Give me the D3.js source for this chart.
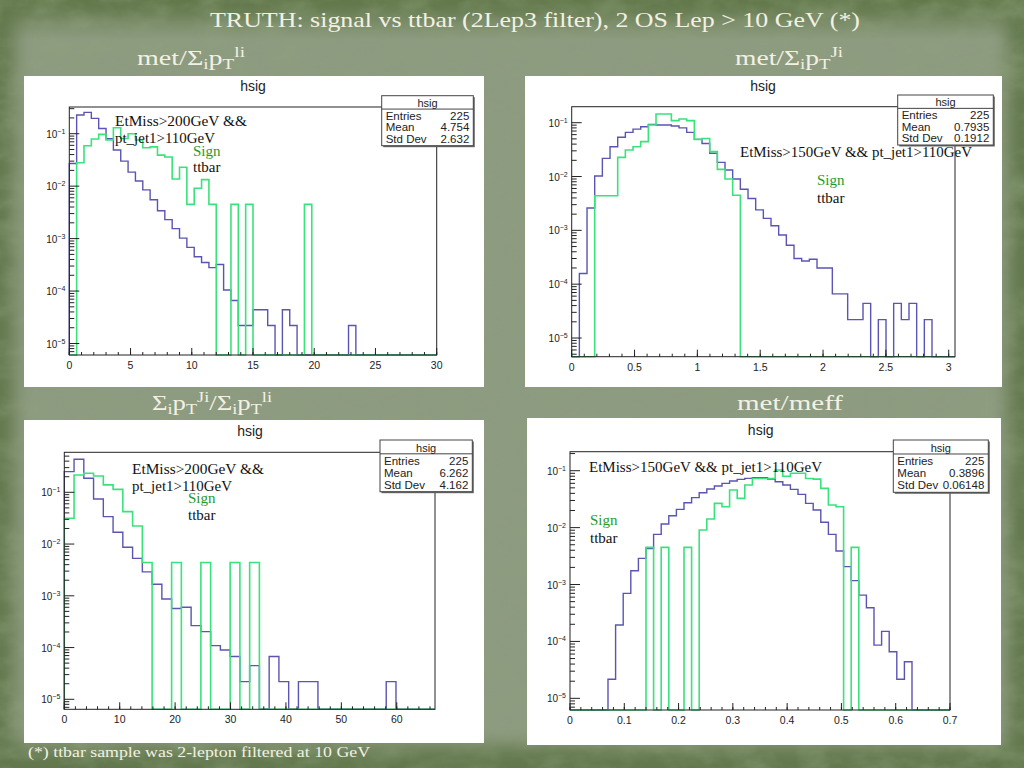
<!DOCTYPE html>
<html><head><meta charset="utf-8">
<script src="https://cdn.jsdelivr.net/npm/d3@7/dist/d3.min.js"></script>
<style>body{margin:0;overflow:hidden;background:#62784c}</style>
</head><body>
<svg id="c" width="1024" height="768"></svg>
<script>
// ---------------- DATA ----------------
// normalized bin contents (0 = empty bin)
const p1Blue  = [0.027,0.227,0.255,0.196,0.126,0.08,0.049,0.03,0.0185,0.0125,0.0085,0.0055,0.0034,0.0023,0.00155,0.00102,0.00068,0.00045,0.00035,0.00028,0.00032,0.000105,6.6e-5,2.2e-5,2.2e-5,4.4e-5,4.4e-5,2.2e-5,0,4.4e-5,2.2e-5,0,0,0,0,0,0,0,2.2e-5,0,0,0,0,0,0,0,0,0,0,0];
const p1Green = [0,0.028,0.059,0.079,0.097,0.076,0.13,0.081,0.1,0.076,0.054,0.056,0.039,0.036,0.0137,0.0229,0.0045,0.0091,0.0133,0.0045,0,0,0.0045,0,0.0045,0,0,0,0,0,0,0,0.0045,0,0,0,0,0,0,0,0,0,0,0,0,0,0,0,0,0];
const p2Blue  = [0,1.58e-4,0.0026,0.0102,0.0217,0.0358,0.0535,0.066,0.076,0.084,0.093,0.0905,0.0905,0.087,0.08,0.066,0.049,0.041,0.027,0.0183,0.0132,0.009,0.0058,0.0039,0.0024,0.00167,0.00122,0.00082,0.00053,0.0003,0.00027,0.00029,0.0002,0.0002,6.6e-5,6.6e-5,2.2e-5,2.2e-5,4.4e-5,0,2.2e-5,0,4.4e-5,2.2e-5,4.4e-5,0,2.2e-5,0,0,0];
const p2Green = [0,0,0,0.0044,0.0044,0.0044,0.0227,0.031,0.0358,0.0444,0.0905,0.145,0.145,0.109,0.117,0.109,0.049,0.051,0.029,0.0136,0.009,0.0045,0,0,0,0,0,0,0,0,0,0,0,0,0,0,0,0,0,0,0,0,0,0,0,0,0,0,0,0];
const p3Blue  = [0.251,0.434,0.187,0.0744,0.0339,0.0169,0.00865,0.0053,0.0029,0.00167,0.00087,0.00057,0.0006,0.000265,0.000203,0.000109,9e-5,6.7e-5,2.2e-5,4.47e-5,0,6.7e-5,2.2e-5,0,2.2e-5,2.2e-5,0,0,0,0,0,0,0,2.2e-5,0,0,0,0];
const p3Green = [0.0315,0.216,0.233,0.207,0.139,0.114,0.0423,0.0223,0.0044,0,0,0.0044,0,0,0.0044,0,0,0.0044,0,0.0044,0,0,0,0,0,0,0,0,0,0,0,0,0,0,0,0,0,0];
const p4Blue  = [0,0,0,0,0,2.16e-5,1.94e-4,0.0007,0.00175,0.00288,0.0043,0.0076,0.0116,0.0162,0.0209,0.0274,0.0336,0.041,0.0477,0.0538,0.06,0.0658,0.0705,0.0733,0.075,0.075,0.071,0.0638,0.056,0.047,0.0384,0.0267,0.0204,0.0124,0.0076,0.00388,0.00206,0.00117,0.00065,0.00039,8.6e-5,1.5e-4,6.6e-5,2.16e-5,4.4e-5,0,0,0,0,0];
const p4Green = [0,0,0,0,0,0,0,0,0,0,0.0045,0,0.0045,0,0,0.0045,0,0.0091,0.0142,0.0267,0.0233,0.0457,0.0327,0.056,0.073,0.073,0.073,0.103,0.08,0.09,0.09,0.073,0.071,0.049,0.025,0.0233,0,0.0045,0,0,0,0,0,0,0,0,0,0,0,0];

const p1XTicks = [0,5,10,15,20,25,30];
const p2XTicks = [0,0.5,1,1.5,2,2.5,3];
const p3XTicks = [0,10,20,30,40,50,60];
const p4XTicks = [0,0.1,0.2,0.3,0.4,0.5,0.6,0.7];
const yDecades = [-5,-4,-3,-2,-1];

const statLabels = ["Entries","Mean","Std Dev"];
const p1Stats = ["225","4.754","2.632"];
const p2Stats = ["225","0.7935","0.1912"];
const p3Stats = ["225","6.262","4.162"];
const p4Stats = ["225","0.3896","0.06148"];

const cut200 = ["EtMiss>200GeV &&","pt_jet1>110GeV"];
const cut150 = ["EtMiss>150GeV && pt_jet1>110GeV"];
const legendLabels = ["Sign","ttbar"];

// ---------------- LAYOUT ----------------
const panels = [
  {box:[24,76,484,387], frame:[69.3,107,436.7,355], xdom:[0,30], ylog:[-5.219,-0.491], blue:p1Blue, green:p1Green,
   xt:p1XTicks, xminor:1, title:[253,91], stats:[381.7,95.7,473.3,145.7], sv:p1Stats,
   cut:cut200, cutPos:[[115,126,132],[115,143,100]], leg:[193,156,172]},
  {box:[525,76,1002,387], frame:[571.7,106.7,955,356.7], xdom:[0,3.05], ylog:[-5.347,-0.703], blue:p2Blue, green:p2Green,
   xt:p2XTicks, xminor:0.1, title:[763,91], stats:[897.7,95,993.3,145], sv:p2Stats,
   cut:cut150, cutPos:[[740,157,232]], leg:[817,185,203]},
  {box:[24,420,484,743], frame:[64.3,452.3,435,709.3], xdom:[0,66.9], ylog:[-5.193,-0.227], blue:p3Blue, green:p3Green,
   xt:p3XTicks, xminor:2, title:[250,436], stats:[380,440,472.3,491.7], sv:p3Stats,
   cut:cut200, cutPos:[[132,474,132],[132,491,100]], leg:[188,503,520]},
  {box:[527,418,1001,745], frame:[570,451.7,950,710], xdom:[0,0.7], ylog:[-5.205,-0.666], blue:p4Blue, green:p4Green,
   xt:p4XTicks, xminor:0.02, title:[760.7,435], stats:[893.3,440,988.3,492.3], sv:p4Stats,
   cut:cut150, cutPos:[[589,472,233]], leg:[590,525,543]}
];

const svg = d3.select('#c');
const defs = svg.append('defs');

// background
const soft = defs.append('filter').attr('id','soft').attr('x','-5%').attr('y','-5%').attr('width','110%').attr('height','110%');
soft.append('feGaussianBlur').attr('stdDeviation',9);
const nz = defs.append('filter').attr('id','noise').attr('x',0).attr('y',0).attr('width','100%').attr('height','100%');
nz.append('feTurbulence').attr('type','fractalNoise').attr('baseFrequency','0.03 0.05').attr('numOctaves',4).attr('seed',11);
nz.append('feColorMatrix').attr('type','matrix').attr('values','0 0 0 0 0.27  0 0 0 0 0.35  0 0 0 0 0.2  0 0 0 1.6 -0.55');
const tg = defs.append('linearGradient').attr('id','topg').attr('x1',0).attr('y1',0).attr('x2',0).attr('y2',1);
tg.append('stop').attr('offset',0).attr('stop-color','#62784a').attr('stop-opacity',0.95);
tg.append('stop').attr('offset',1).attr('stop-color','#62784a').attr('stop-opacity',0);
const rg = defs.append('radialGradient').attr('id','maskg').attr('cx','50%').attr('cy','50%').attr('r','62%');
rg.append('stop').attr('offset','0.55').attr('stop-color','#fff').attr('stop-opacity',0.25);
rg.append('stop').attr('offset','0.85').attr('stop-color','#fff').attr('stop-opacity',0.9);
rg.append('stop').attr('offset','1').attr('stop-color','#fff').attr('stop-opacity',1);
const mk = defs.append('mask').attr('id','edgeMask');
mk.append('rect').attr('width',1024).attr('height',768).attr('fill','url(#maskg)');

svg.append('rect').attr('width',1024).attr('height',768).attr('fill','#62784c');
svg.append('rect').attr('x',14).attr('y',10).attr('width',994).attr('height',736).attr('rx',6).attr('fill','#8d9b80').attr('filter','url(#soft)');
svg.append('rect').attr('x',0).attr('y',0).attr('width',1024).attr('height',40).attr('fill','url(#topg)');
svg.append('rect').attr('width',1024).attr('height',768).attr('fill','#000').attr('filter','url(#noise)').attr('opacity',0.6).attr('mask','url(#edgeMask)');

const cream = '#f3f1e4';
const serif = "'Liberation Serif','DejaVu Serif',serif";
const sans = "'Liberation Sans',Arial,sans-serif";

// header
svg.append('text').attr('x',210).attr('y',27).attr('font-family',serif).attr('font-size',22).attr('fill',cream)
  .attr('textLength',650).attr('lengthAdjust','spacingAndGlyphs')
  .text('TRUTH: signal vs ttbar (2Lep3 filter), 2 OS Lep > 10 GeV (*)');

function sumLabel(x, y, parts, width){
  const t = svg.append('text').attr('x',x).attr('y',y).attr('font-family',serif).attr('font-size',22).attr('fill',cream);
  if (width) t.attr('textLength',width).attr('lengthAdjust','spacingAndGlyphs');
  let cur = 0;
  parts.forEach(p=>{
    const [s, kind] = p;
    const off = kind==='sub'?4:kind==='sup'?-8:0;
    t.append('tspan').attr('dy',off-cur).attr('font-size',kind? 15:22).text(s);
    cur = off;
  });
}
sumLabel(137,65,[['met/Σ'],['i','sub'],['p'],['T','sub'],['li','sup']],108);
sumLabel(735,65,[['met/Σ'],['i','sub'],['p'],['T','sub'],['Ji','sup']],108);
sumLabel(152,410,[['Σ'],['i','sub'],['p'],['T','sub'],['Ji','sup'],['/Σ'],['i','sub'],['p'],['T','sub'],['li','sup']],120);
svg.append('text').attr('x',737).attr('y',410).attr('font-family',serif).attr('font-size',22).attr('fill',cream)
  .attr('textLength',106).attr('lengthAdjust','spacingAndGlyphs').text('met/meff');

// footer
svg.append('text').attr('x',28).attr('y',757).attr('font-family',serif).attr('font-size',15).attr('fill',cream)
  .attr('textLength',342).attr('lengthAdjust','spacingAndGlyphs').text('(*) ttbar sample was 2-lepton filtered at 10 GeV');
svg.append('text').attr('x',966).attr('y',730).attr('font-family',serif).attr('font-size',20).attr('fill','#d6cfae').attr('opacity',0.7).text('14');

const blueC = '#5a55b2', greenC = '#3ae27c';

panels.forEach(P=>{
  const g = svg.append('g');
  const [bx0,by0,bx1,by1] = P.box;
  g.append('rect').attr('x',bx0).attr('y',by0).attr('width',bx1-bx0).attr('height',by1-by0).attr('fill','#fff');
  const [fx0,fy0,fx1,fy1] = P.frame;
  const xs = d3.scaleLinear().domain(P.xdom).range([fx0,fx1]);
  const ymin = Math.pow(10,P.ylog[0]), ymax = Math.pow(10,P.ylog[1]);
  const ys = d3.scaleLog().domain([ymin,ymax]).range([fy1,fy0]);
  const nb = P.blue.length, bw = (P.xdom[1]-P.xdom[0])/nb;

  g.append('text').attr('x',P.title[0]).attr('y',P.title[1]).attr('text-anchor','middle')
    .attr('font-family',sans).attr('font-size',14).attr('fill','#222').text('hsig');

  function stepPts(vals){
    const pts=[[P.xdom[0],ymin]];
    vals.forEach((v,i)=>{const yv=Math.max(v,ymin); pts.push([P.xdom[0]+i*bw,yv]); pts.push([P.xdom[0]+(i+1)*bw,yv]);});
    pts.push([P.xdom[1],ymin]);
    return pts;
  }
  const line = d3.line().x(d=>xs(d[0])).y(d=>ys(d[1]));
  g.append('path').attr('d',line(stepPts(P.blue))).attr('fill','none').attr('stroke',blueC).attr('stroke-width',1.4);
  g.append('path').attr('d',line(stepPts(P.green))).attr('fill','none').attr('stroke',greenC).attr('stroke-width',1.6);

  g.append('rect').attr('x',fx0).attr('y',fy0).attr('width',fx1-fx0).attr('height',fy1-fy0)
    .attr('fill','none').attr('stroke','#222').attr('stroke-width',1);

  const minors = d3.range(P.xdom[0], P.xdom[1]+1e-9, P.xminor);
  g.selectAll(null).data(minors).enter().append('line')
    .attr('x1',d=>xs(d)).attr('x2',d=>xs(d)).attr('y1',fy1).attr('y2',fy1-3).attr('stroke','#222').attr('stroke-width',1);
  g.selectAll(null).data(P.xt).enter().append('line')
    .attr('x1',d=>xs(d)).attr('x2',d=>xs(d)).attr('y1',fy1).attr('y2',fy1-7).attr('stroke','#222').attr('stroke-width',1);
  g.selectAll(null).data(P.xt).enter().append('text')
    .attr('x',d=>xs(d)).attr('y',fy1+14).attr('text-anchor','middle')
    .attr('font-family',sans).attr('font-size',10.5).attr('fill','#222').text(d=>d);

  const yMinor=[];
  for(let e=-6;e<=0;e++) for(let k=2;k<=9;k++){const v=k*Math.pow(10,e); if(v>=ymin&&v<=ymax) yMinor.push(v);}
  g.selectAll(null).data(yMinor).enter().append('line')
    .attr('x1',fx0).attr('x2',fx0+5).attr('y1',d=>ys(d)).attr('y2',d=>ys(d)).attr('stroke','#222').attr('stroke-width',1);
  g.selectAll(null).data(yDecades).enter().append('line')
    .attr('x1',fx0).attr('x2',fx0+10).attr('y1',d=>ys(Math.pow(10,d))).attr('y2',d=>ys(Math.pow(10,d))).attr('stroke','#222').attr('stroke-width',1);
  const yl = g.selectAll(null).data(yDecades).enter().append('text')
    .attr('x',fx0-4).attr('y',d=>ys(Math.pow(10,d))+4).attr('text-anchor','end')
    .attr('font-family',sans).attr('font-size',10).attr('fill','#222');
  yl.append('tspan').text('10');
  yl.append('tspan').attr('dy',-4).attr('font-size',7).text(d=>'\u2212'+(-d));

  const [sx0,sy0,sx1,sy1] = P.stats;
  g.append('rect').attr('x',sx0+1.5).attr('y',sy0+1.5).attr('width',sx1-sx0).attr('height',sy1-sy0).attr('fill','#666');
  g.append('rect').attr('x',sx0).attr('y',sy0).attr('width',sx1-sx0).attr('height',sy1-sy0).attr('fill','#fff').attr('stroke','#444').attr('stroke-width',1);
  const rh = (sy1-sy0)/4.3;
  g.append('line').attr('x1',sx0).attr('x2',sx1).attr('y1',sy0+rh*1.15).attr('y2',sy0+rh*1.15).attr('stroke','#444');
  g.append('text').attr('x',(sx0+sx1)/2).attr('y',sy0+rh*1.15-2).attr('text-anchor','middle')
    .attr('font-family',sans).attr('font-size',11).attr('fill','#222').text('hsig');
  statLabels.forEach((lab,i)=>{
    const yy = sy0 + rh*1.15 + rh*(i+1) - 1;
    g.append('text').attr('x',sx0+4).attr('y',yy).attr('font-family',sans).attr('font-size',11.5).attr('fill','#222').text(lab);
    g.append('text').attr('x',sx1-4).attr('y',yy).attr('text-anchor','end').attr('font-family',sans).attr('font-size',11.5).attr('fill','#222').text(P.sv[i]);
  });

  P.cut.forEach((s,i)=>{
    const [x,y,w]=P.cutPos[i];
    g.append('text').attr('x',x).attr('y',y).attr('font-family',serif).attr('font-size',15).attr('fill','#111')
      .attr('textLength',w).attr('lengthAdjust','spacingAndGlyphs').text(s);
  });
  g.append('text').attr('x',P.leg[0]).attr('y',P.leg[1]).attr('font-family',serif).attr('font-size',15).attr('fill','#1f9a2e').text(legendLabels[0]);
  g.append('text').attr('x',P.leg[0]).attr('y',P.leg[2]).attr('font-family',serif).attr('font-size',15).attr('fill','#111').text(legendLabels[1]);
});
</script>
</body></html>
